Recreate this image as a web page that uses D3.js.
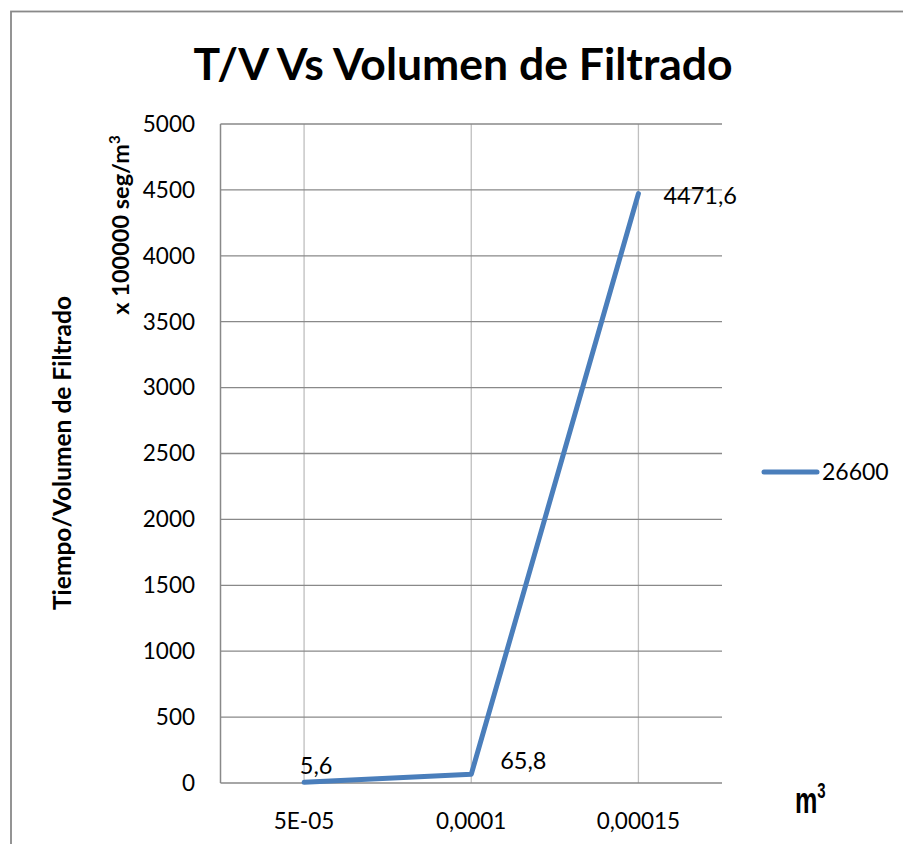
<!DOCTYPE html>
<html><head><meta charset="utf-8">
<script src="https://cdn.jsdelivr.net/npm/d3@7"></script>
<style>html,body{margin:0;padding:0;background:#fff;}svg{display:block;}</style>
</head><body>
<script>
const categories = ["5E-05", "0,0001", "0,00015"];
const values = [5.6, 65.8, 4471.6];
const valueLabels = ["5,6", "65,8", "4471,6"];
const yTicks = [0, 500, 1000, 1500, 2000, 2500, 3000, 3500, 4000, 4500, 5000];
const seriesName = "26600";
const title = "T/V Vs Volumen de Filtrado";

const W = 903, H = 844;
const svg = d3.select("body").append("svg").attr("width", W).attr("height", H);
const font = "Lato, 'Open Sans', sans-serif";

svg.append("rect").attr("x", 11).attr("y", 11.5).attr("width", 920).attr("height", 900)
  .attr("fill", "#fff").attr("stroke", "#898989").attr("stroke-width", 1.8);

const x = d3.scalePoint().domain(categories).range([220.5, 722]).padding(0.5);
const y = d3.scaleLinear().domain([0, 5000]).range([783, 124]);
const xl = 220.5, xr = 722;

svg.append("g").selectAll("line").data(categories).join("line")
  .attr("x1", d => x(d)).attr("x2", d => x(d)).attr("y1", y(5000)).attr("y2", y(0))
  .attr("stroke", "#bfbfbf").attr("stroke-width", 1.3);
svg.append("g").selectAll("line").data(yTicks).join("line")
  .attr("x1", xl).attr("x2", xr).attr("y1", d => y(d)).attr("y2", d => y(d))
  .attr("stroke", "#898989").attr("stroke-width", 1.3);
svg.append("line").attr("x1", xl).attr("x2", xl).attr("y1", y(5000)).attr("y2", y(0))
  .attr("stroke", "#898989").attr("stroke-width", 1.5);

svg.append("g").selectAll("text").data(yTicks).join("text")
  .attr("x", 195).attr("y", d => y(d)).attr("dy", "0.35em").attr("text-anchor", "end")
  .attr("font-family", font).attr("font-size", 22.5).attr("fill", "#000").text(d => d);
svg.append("g").selectAll("text").data(categories).join("text")
  .attr("x", d => x(d)).attr("y", 829).attr("text-anchor", "middle")
  .attr("font-family", font).attr("font-size", 22.5).attr("fill", "#000").text(d => d);

const line = d3.line().x((d, i) => x(categories[i])).y(d => y(d));
svg.append("path").datum(values).attr("d", line).attr("fill", "none")
  .attr("stroke", "#4a7ebb").attr("stroke-width", 5).attr("stroke-linejoin", "round").attr("stroke-linecap", "round");

const lblOff = [[12, -16], [52, -14], [62, 2]];
svg.append("g").selectAll("text").data(values).join("text")
  .attr("x", (d, i) => x(categories[i]) + lblOff[i][0]).attr("y", (d, i) => y(d) + lblOff[i][1])
  .attr("dy", "0.35em").attr("text-anchor", (d, i) => i === 2 ? "start" : "middle")
  .attr("dx", (d, i) => i === 2 ? -37 : 0)
  .attr("font-family", font).attr("font-size", 23.5).attr("fill", "#000")
  .text((d, i) => valueLabels[i]);

svg.append("text").attr("x", 463).attr("y", 80).attr("text-anchor", "middle")
  .attr("font-family", font).attr("font-weight", "bold").attr("font-size", 44.5).attr("fill", "#000").text(title);

svg.append("text").attr("transform", "translate(71,453) rotate(-90)").attr("text-anchor", "middle")
  .attr("font-family", font).attr("font-weight", "bold").attr("font-size", 24.5).attr("fill", "#000")
  .text("Tiempo/Volumen de Filtrado");
const t2 = svg.append("text").attr("transform", "translate(129,225) rotate(-90)").attr("text-anchor", "middle")
  .attr("font-family", font).attr("font-weight", "bold").attr("font-size", 23.5).attr("fill", "#000");
t2.append("tspan").text("x 100000 seg/m");
t2.append("tspan").attr("dy", -9).attr("font-size", 15).text("3");

const t3 = svg.append("text").attr("transform", "translate(795,813) scale(0.68,1)")
  .attr("font-family", "'Liberation Sans', sans-serif").attr("font-weight", "bold").attr("font-size", 37).attr("fill", "#000");
t3.append("tspan").text("m");
t3.append("tspan").attr("dy", -15).attr("font-size", 22).text("3");

svg.append("line").attr("x1", 764).attr("x2", 817).attr("y1", 472).attr("y2", 472)
  .attr("stroke", "#4a7ebb").attr("stroke-width", 5).attr("stroke-linecap", "round");
svg.append("text").attr("x", 822).attr("y", 472).attr("dy", "0.35em")
  .attr("font-family", font).attr("font-size", 23).attr("fill", "#000").text(seriesName);
</script>
</body></html>
